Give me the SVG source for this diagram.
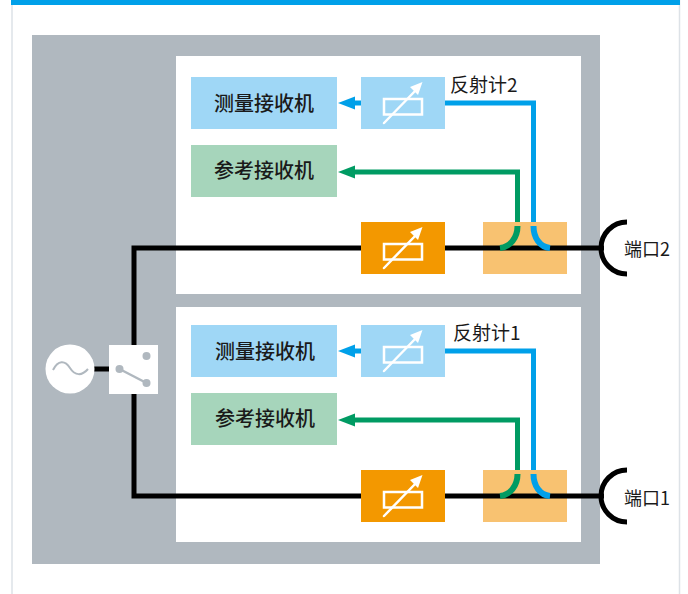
<svg xmlns="http://www.w3.org/2000/svg" width="688" height="594" viewBox="0 0 688 594">
<style>
text{font-family:"Noto Sans CJK SC","Liberation Sans",sans-serif;fill:#1a1a1a}
.r{font-size:20px;text-anchor:middle;font-weight:500}
.l{font-size:19px}
.p{font-size:18px}
.k{fill:none;stroke:#000;stroke-width:5}
.b{fill:none;stroke:#00a0e9;stroke-width:5}
.g{fill:none;stroke:#009b63;stroke-width:5}
.w{fill:none;stroke:#fff;stroke-width:2.5}
</style>
<defs>
<g id="att">
<rect x="-19" y="-4" width="38" height="15.500" class="w"/>
<path d="M-19 20 L14 -14" stroke="#fff" stroke-width="2.5" fill="none" stroke-linecap="round"/>
<path d="M19.500 -21 L15 -8 L7 -16Z" fill="#fff"/>
</g>
</defs>
<rect x="0" y="0" width="688" height="594" fill="#fff"/>
<path d="M12 0V594M679.500 0V594" stroke="#dde2e7" stroke-width="1.500" fill="none"/>
<rect x="11" y="0" width="669" height="5" fill="#00a0e9"/>
<rect x="32" y="35" width="568" height="529" fill="#b0b8bf"/>
<rect x="176" y="56" width="405" height="238" fill="#fff"/>
<rect x="176" y="307" width="405" height="235" fill="#fff"/>

<g id="coupler2"><rect x="483" y="222" width="84" height="52" fill="#f8c271"/></g>
<g id="coupler1"><rect x="483" y="470" width="84" height="52" fill="#f8c271"/></g>

<g id="connectors">
<path class="k" d="M94 369H112"/>
<path class="k" d="M134 348V248H604"/>
<path class="k" d="M134 390V496H604"/>
<path class="b" d="M445 103H533.500V222"/>
<path class="g" d="M354 172H517.500V222"/>
<path class="b" d="M445 351H533.500V470"/>
<path class="g" d="M354 420H517.500V470"/>
<path d="M354 103H361" stroke="#00a0e9" stroke-width="5"/>
<path d="M354 351H361" stroke="#00a0e9" stroke-width="5"/>
<path d="M338 103L355 96.500V109.500Z" fill="#00a0e9"/>
<path d="M338 351L355 344.500V357.500Z" fill="#00a0e9"/>
<path d="M338 172L355 165.500V178.500Z" fill="#009b63"/>
<path d="M338 420L355 413.500V426.500Z" fill="#009b63"/>
<path class="g" style="stroke-width:6" d="M517.500 226C517.500 238 510 247 500 248"/>
<path class="b" style="stroke-width:6" d="M533.500 226C533.500 238 540 247 550 248"/>
<path class="g" style="stroke-width:6" d="M517.500 474C517.500 486 510 495 500 496"/>
<path class="b" style="stroke-width:6" d="M533.500 474C533.500 486 540 495 550 496"/>
</g>

<g id="source">
<circle cx="70" cy="369" r="24.500" fill="#fff"/>
<path d="M53 370C58 360 65 360 70 368C75 376 82 376 88 369" fill="none" stroke="#b0b8bf" stroke-width="2"/>
</g>
<g id="switch">
<rect x="109" y="345" width="49" height="49" fill="#fff"/>
<circle cx="146.500" cy="356" r="4" fill="#b0b8bf"/>
<circle cx="119.500" cy="369" r="4" fill="#b0b8bf"/>
<circle cx="146.500" cy="383" r="4" fill="#b0b8bf"/>
<path d="M119.500 369L146.500 383" stroke="#b0b8bf" stroke-width="2.500"/>
</g>

<g id="meas2"><rect x="191" y="77" width="146" height="52" fill="#9fd7f6"/><text class="r" x="264" y="111">测量接收机</text></g>
<g id="ref2"><rect x="191" y="145" width="146" height="52" fill="#a6d5bb"/><text class="r" x="264" y="178">参考接收机</text></g>
<g id="att2b"><rect x="361" y="77" width="84" height="52" fill="#9fd7f6"/><use href="#att" x="403" y="103"/></g>
<g id="att2o"><rect x="361" y="222" width="84" height="52" fill="#f39800"/><use href="#att" x="403" y="248"/></g>
<g id="meas1"><rect x="191" y="325" width="146" height="52" fill="#9fd7f6"/><text class="r" x="265" y="359">测量接收机</text></g>
<g id="ref1"><rect x="191" y="393" width="146" height="52" fill="#a6d5bb"/><text class="r" x="265" y="426">参考接收机</text></g>
<g id="att1b"><rect x="361" y="325" width="84" height="52" fill="#9fd7f6"/><use href="#att" x="403" y="351"/></g>
<g id="att1o"><rect x="361" y="470" width="84" height="52" fill="#f39800"/><use href="#att" x="403" y="496"/></g>

<g id="port2"><path class="k" d="M627 222A26 26 0 0 0 627 274"/><text class="p" x="624" y="256">端口2</text></g>
<g id="port1"><path class="k" d="M627 470A26 26 0 0 0 627 522"/><text class="p" x="624" y="505">端口1</text></g>
<text class="l" x="450" y="92">反射计2</text>
<text class="l" x="453" y="340">反射计1</text>
</svg>
